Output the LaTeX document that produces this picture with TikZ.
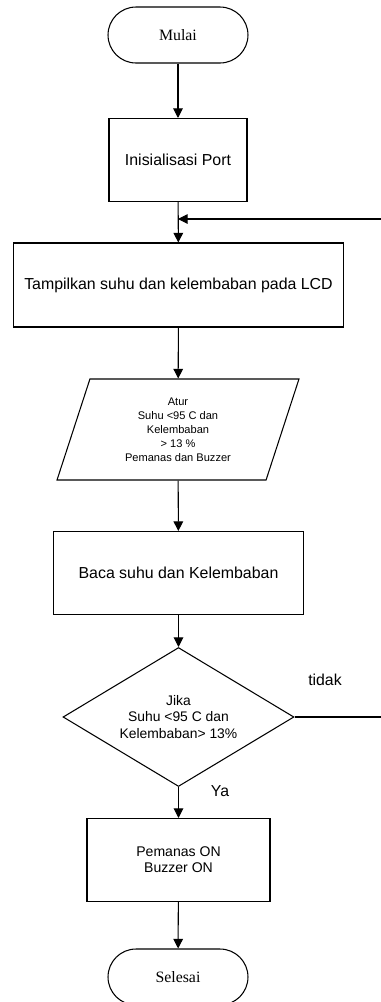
\documentclass[tikz,border=0pt]{standalone}
\usepackage{fontspec}
\setmainfont{Liberation Serif}
\newfontfamily\arialfont{Liberation Sans}
\usepackage{tikz}
\usetikzlibrary{arrows.meta, positioning, shapes.geometric}

\begin{document}
\begin{tikzpicture}[
  x=0.02cm, y=-0.02cm,
  line width=0.6pt,
  terminal/.style={draw, rounded corners=0.56cm, minimum width=2.8cm, minimum height=1.12cm, inner sep=0pt, font=\fontsize{9}{11}\selectfont},
  process/.style={draw, inner sep=2pt, align=center, font=\arialfont\fontsize{9.05}{11}\selectfont},
  inout/.style={draw, trapezium, trapezium left angle=64, trapezium right angle=116, trapezium stretches body=true, minimum width=4.84cm, minimum height=2.02cm, inner sep=1pt, align=center, font=\arialfont\fontsize{6.3}{8}\selectfont},
  decision/.style={draw, diamond, aspect=1.66, minimum width=4.62cm, minimum height=2.78cm, inner sep=0pt, align=center, font=\arialfont\fontsize{7.9}{9.4}\selectfont},
  labeltext/.style={font=\arialfont\fontsize{9}{11}\selectfont},
  flow/.style={-{Triangle[length=5.5pt, width=5.5pt]}}
]
\useasboundingbox (0,0) rectangle (381,1002);

%% Nodes
\node[terminal] (mulai) at (178,35) {Mulai};
\node[process, minimum width=2.76cm, minimum height=1.66cm] (init) at (178,160) {Inisialisasi Port};
\node[process, minimum width=6.62cm, minimum height=1.68cm] (tampil) at (178.5,285) {Tampilkan suhu dan kelembaban pada LCD};
\node[inout] (atur) at (178,429.5) {Atur\\Suhu <95 C dan\\Kelembaban\\> 13 \%\\Pemanas dan Buzzer};
\node[process, minimum width=5cm, minimum height=1.66cm] (baca) at (178.5,573) {Baca suhu dan Kelembaban};
\node[decision] (jika) at (178.5,717) {Jika\\Suhu <95 C dan\\Kelembaban> 13\%};
\node[process, minimum width=3.66cm, minimum height=1.66cm, font=\arialfont\fontsize{8}{9}\selectfont] (aksi) at (178.5,860) {Pemanas ON\\Buzzer ON};
\node[terminal] (selesai) at (178,977) {Selesai};

%% Labels
\node[labeltext] (tidak) at (325,680) {tidak};
\node[labeltext] (ya) at (220,791) {Ya};

%% Loop ends at the edge
\coordinate (ret) at (381,219);
\coordinate (tdk) at (381,717);

%% Connectors
\draw[flow] (mulai) -- (init);
\draw[flow] (init) -- (tampil);
\draw[flow] (ret) -- (ret -| init.south);
\draw[flow] (tampil) -- (atur);
\draw[flow] (atur) -- (baca);
\draw[flow] (baca) -- (jika);
\draw (jika.east) -- (tdk);
\draw[flow] (jika) -- (aksi);
\draw[flow] (aksi) -- (selesai);
\end{tikzpicture}
\end{document}
